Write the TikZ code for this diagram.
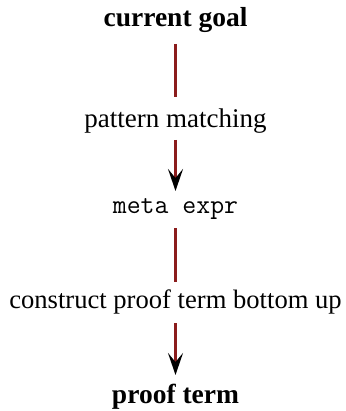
\documentclass[tikz,border=0pt]{standalone}
\usepackage{fontspec}
\setmainfont{Liberation Serif}
\usetikzlibrary{arrows.meta}
\definecolor{linered}{RGB}{139,28,28}
\tikzset{
  txt/.style={inner sep=0pt, outer sep=0pt, anchor=base, font=\fontsize{27}{32}\selectfont, text height=16pt, text depth=6pt},
  boldtxt/.style={txt, font=\fontsize{27.5}{32}\selectfont\bfseries},
  codetxt/.style={txt, font=\fontsize{27}{32}\selectfont\ttfamily},
  conn/.style={draw=linered, line width=2.4pt},
  arr/.style={conn, -{Stealth[length=22pt,width=15pt,inset=9pt,color=black]}}
}
\begin{document}
\begin{tikzpicture}[x=1pt,y=-1pt]
\useasboundingbox (0,0) rectangle (345,411);
\node[boldtxt] (a) at (175.5,27) {current goal};
\node[txt] (l1) at (175.5,128) {pattern matching};
\node[codetxt] (b) at (175.5,214) {meta expr};
\node[txt, font=\fontsize{26.6}{32}\selectfont] (l2) at (175.5,308) {construct proof term bottom up};
\node[boldtxt] (c) at (175.5,403) {proof term};
\draw[conn, shorten <=11pt, shorten >=15pt] (a) -- (l1);
\draw[arr, shorten <=6pt, shorten >=7pt] (l1) -- (b);
\draw[conn, shorten <=8pt, shorten >=10pt] (b) -- (l2);
\draw[arr, shorten <=9pt, shorten >=12pt] (l2) -- (c);
\end{tikzpicture}
\end{document}
